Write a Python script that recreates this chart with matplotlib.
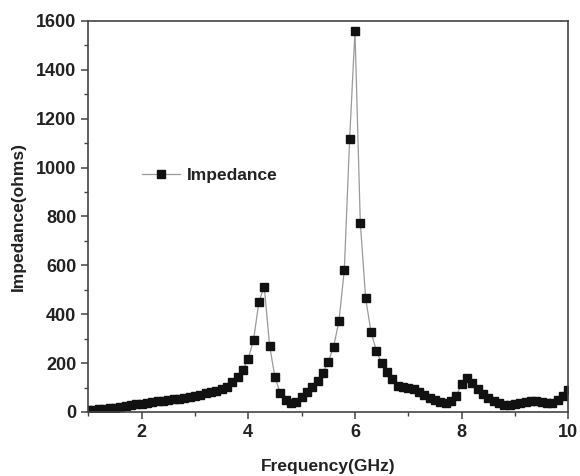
import numpy as np
import matplotlib
matplotlib.use("Agg")
import matplotlib.pyplot as plt
from matplotlib.ticker import MultipleLocator

# frequency sweep, 1-10 GHz in 0.1 GHz steps
freq = np.round(np.arange(1.0, 10.01, 0.1), 1)
impedance = [
    8, 10, 12, 14, 16, 18, 21, 24, 27, 31,            # 1.0 - 1.9
    34, 37, 40, 43, 46, 49, 52, 55, 59, 63,           # 2.0 - 2.9
    67, 71, 76, 81, 87, 94, 104, 122, 144, 172,       # 3.0 - 3.9
    218, 295, 451, 513, 272, 143, 77, 49, 35, 40,     # 4.0 - 4.9
    60, 81, 103, 128, 161, 205, 267, 372, 580, 1115,  # 5.0 - 5.9
    1558, 775, 465, 329, 251, 199, 162, 133, 107, 103,  # 6.0 - 6.9
    100, 92, 82, 70, 58, 49, 40, 36, 45, 66,          # 7.0 - 7.9
    116, 140, 117, 92, 72, 56, 44, 35, 29, 28,        # 8.0 - 8.9
    31, 36, 42, 46, 44, 39, 36, 38, 48, 66,           # 9.0 - 9.9
    88,                                               # 10.0
]

plt.rcParams["font.family"] = ["Liberation Sans", "DejaVu Sans"]
plt.rcParams["font.weight"] = "bold"

fig = plt.figure(figsize=(5.8, 4.76), dpi=100)
ax = fig.add_axes([0.152, 0.1345, 0.828, 0.8215])

ax.plot(freq, impedance, color="#9a9a9a", lw=0.9, marker="s", markersize=6,
        markerfacecolor="#111111", markeredgecolor="#111111", label="Impedance")

ax.set_xlim(1, 10)
ax.set_ylim(0, 1600)
ax.xaxis.set_major_locator(MultipleLocator(2))
ax.xaxis.set_minor_locator(MultipleLocator(1))
ax.yaxis.set_major_locator(MultipleLocator(200))
ax.yaxis.set_minor_locator(MultipleLocator(100))
ax.set_xticks([2, 4, 6, 8, 10])

for s in ax.spines.values():
    s.set_color("#444444")
    s.set_linewidth(1.2)
ax.tick_params(which="major", direction="out", length=5, width=1.1,
               color="#444444", labelsize=13, labelcolor="#222222")
ax.tick_params(which="minor", direction="out", length=3, width=1.0,
               color="#444444")

ax.set_xlabel("Frequency(GHz)", fontsize=12.5, fontweight="bold",
              color="#222222", labelpad=13)
ax.set_ylabel("Impedance(ohms)", fontsize=12.5, fontweight="bold",
              color="#222222", labelpad=7)

ax.legend(loc="upper left", bbox_to_anchor=(0.08, 0.665), frameon=False,
          fontsize=12.5, handlelength=2.2, handletextpad=0.4,
          labelcolor="#222222")

fig.savefig("out.png", dpi=100)
